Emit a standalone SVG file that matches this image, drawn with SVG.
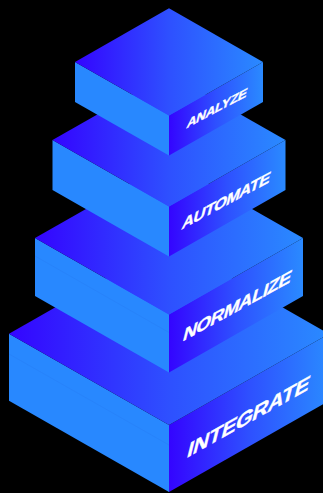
<svg xmlns="http://www.w3.org/2000/svg" width="323" height="493" viewBox="0 0 323 493">
  <defs>
    <linearGradient id="g" x1="0" y1="0" x2="1" y2="0">
      <stop offset="0" stop-color="#3404ff"/>
      <stop offset="0.5" stop-color="#2e50ff"/>
      <stop offset="1" stop-color="#2a8aff"/>
    </linearGradient>
    <style>
      .left { fill: #2888ff; }
      .right, .top { fill: url(#g); }
      .seam { stroke: #2479f0; stroke-width: 1; fill: none; opacity: 0.35; }
      .lbl { fill: #ffffff; stroke: #ffffff; stroke-width: 0.4; font-family: "Liberation Sans", Arial, sans-serif; font-weight: bold; text-anchor: middle; }
    </style>
  </defs>
  <rect width="323" height="493" fill="#000000"/>
  <g id="integrate">
    <polygon class="left" points="9,333.8 169,425 169,492 9,400.8"/>
    <line class="seam" x1="9" y1="354" x2="169" y2="445"/>
    <polygon class="right" points="169,425 329,333.8 329,400.8 169,492"/>
    <polygon class="top" points="9,333.8 169,242.6 329,333.8 169,425"/>
    <text class="lbl" font-size="22" textLength="122" lengthAdjust="spacing" transform="matrix(1,-0.56,-0.25,1,247,424)">INTEGRATE</text>
  </g>
  <g id="normalize">
    <polygon class="left" points="35,238.1 169,314.5 169,372.5 35,296.1"/>
    <line class="seam" x1="35" y1="256" x2="169" y2="332.5"/>
    <polygon class="right" points="169,314.5 303,238.1 303,296.1 169,372.5"/>
    <polygon class="top" points="35,238.1 169,161.7 303,238.1 169,314.5"/>
    <text class="lbl" font-size="19" textLength="108" lengthAdjust="spacing" transform="matrix(1,-0.55,-0.25,1,236,312)">NORMALIZE</text>
  </g>
  <g id="automate">
    <polygon class="left" points="52.5,140.1 169,206.5 169,256.5 52.5,190.1"/>
    <polygon class="right" points="169,206.5 285.5,140.1 285.5,190.1 169,256.5"/>
    <polygon class="top" points="52.5,140.1 169,73.7 285.5,140.1 169,206.5"/>
    <text class="lbl" font-size="16.5" textLength="88" lengthAdjust="spacing" transform="matrix(1,-0.54,-0.25,1,225,206)">AUTOMATE</text>
  </g>
  <g id="analyze">
    <polygon class="left" points="75,61.9 169,115.5 169,155.5 75,101.9"/>
    <polygon class="right" points="169,115.5 263,61.9 263,101.9 169,155.5"/>
    <polygon class="top" points="75,61.9 169,8.3 263,61.9 169,115.5"/>
    <text class="lbl" font-size="13.5" textLength="60" lengthAdjust="spacing" transform="matrix(1,-0.53,-0.25,1,216,112.5)">ANALYZE</text>
  </g>
  <g id="connectors"/>
</svg>
